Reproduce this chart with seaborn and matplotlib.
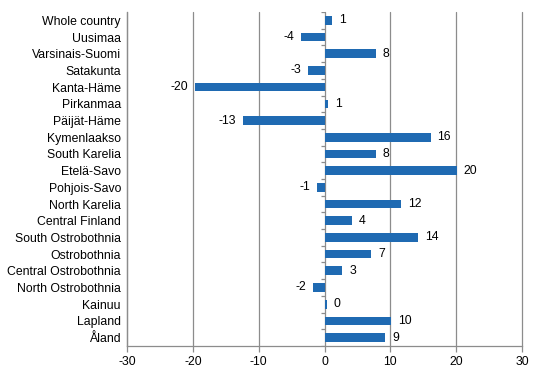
import numpy as np
import pandas as pd
import seaborn as sns
import matplotlib.pyplot as plt

regions = ["Whole country", "Uusimaa", "Varsinais-Suomi", "Satakunta", "Kanta-Häme",
           "Pirkanmaa", "Päijät-Häme", "Kymenlaakso", "South Karelia", "Etelä-Savo",
           "Pohjois-Savo", "North Karelia", "Central Finland", "South Ostrobothnia",
           "Ostrobothnia", "Central Ostrobothnia", "North Ostrobothnia", "Kainuu",
           "Lapland", "Åland"]
change = [1.2, -3.6, 7.8, -2.5, -19.7, 0.5, -12.4, 16.1, 7.8, 20.1,
          -1.1, 11.6, 4.2, 14.2, 7.1, 2.7, -1.8, 0.3, 10.1, 9.2]
labels = ["1", "-4", "8", "-3", "-20", "1", "-13", "16", "8", "20",
          "-1", "12", "4", "14", "7", "3", "-2", "0", "10", "9"]
xticks = [-30, -20, -10, 0, 10, 20, 30]

df = pd.DataFrame({"region": regions, "change": change})

sns.set_style("white")
plt.rcParams['font.family'] = ['Liberation Sans', 'DejaVu Sans']
plt.rcParams['font.size'] = 8.8
plt.rcParams['text.color'] = 'black'
plt.rcParams['xtick.labelcolor'] = 'black'
plt.rcParams['ytick.labelcolor'] = 'black'

fig = plt.figure(figsize=(5.46, 3.76), dpi=100)
ax = fig.add_axes([0.233, 0.08, 0.723, 0.888])

grey = "#8c8c8c"
for x in xticks:
    ax.axvline(x, color=grey, lw=0.9, zorder=0, clip_on=False)

sns.barplot(data=df, x="change", y="region", color="#1f6ab2", width=0.52,
            saturation=1, linewidth=0, ax=ax, zorder=2)

ax.bar_label(ax.containers[0], labels=labels, padding=5, fontsize=8.8, color="black")

# small category ticks on the zero axis
n = len(regions)
ax.hlines(np.arange(-0.5, n), -0.6, 0, color=grey, lw=0.9, zorder=1)

ax.set_xlim(-30, 30)
ax.set_ylim(n - 0.5, -0.5)
ax.set_xticks(xticks)
ax.set_xticklabels([str(v) for v in xticks])
ax.set_xlabel("")
ax.set_ylabel("")
ax.tick_params(axis="y", length=0, pad=4.5)
ax.tick_params(axis="x", length=4, color=grey, width=0.9, direction="out", pad=3)
ax.xaxis.set_ticks_position("bottom")

for s in ["top", "right"]:
    ax.spines[s].set_visible(False)
for s in ["left", "bottom"]:
    ax.spines[s].set_color(grey)
    ax.spines[s].set_linewidth(0.9)

plt.savefig("out.png", dpi=100)
